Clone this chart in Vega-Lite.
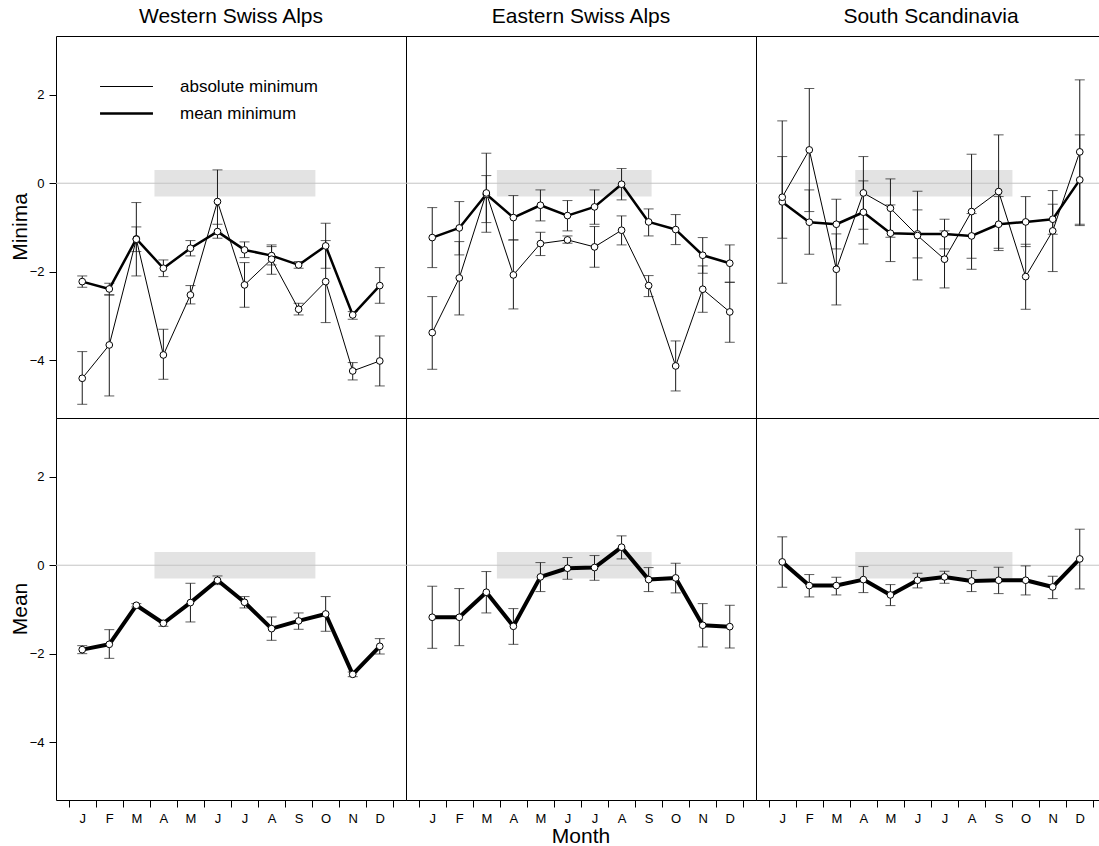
{
  "$schema": "https://vega.github.io/schema/vega-lite/v6.json",
  "background": "white",
  "padding": {"left": 10, "top": 6, "right": 0, "bottom": 0},
  "bounds": "flush",
  "config": {
    "font": "Liberation Sans",
    "view": {"stroke": "black", "strokeWidth": 1},
    "axis": {"grid": false, "domain": false, "tickColor": "black", "labelColor": "black", "labelFontSize": 13, "tickSize": 7, "labelFont": "Liberation Sans", "title": null},
    "header": {"labelFont": "Liberation Sans", "labelColor": "black", "titleFont": "Liberation Sans", "titleColor": "black"}
  },
  "data": {"values": [
    {"k":"band","r":"Western Swiss Alps","p":"Minima","x0":3.67,"x1":9.62,"b0":-0.3,"b1":0.3},
    {"k":"band","r":"Eastern Swiss Alps","p":"Minima","x0":3.39,"x1":9.11,"b0":-0.3,"b1":0.3},
    {"k":"band","r":"South Scandinavia","p":"Minima","x0":3.70,"x1":9.51,"b0":-0.3,"b1":0.3},
    {"k":"band","r":"Western Swiss Alps","p":"Mean","x0":3.67,"x1":9.62,"b0":-0.3,"b1":0.3},
    {"k":"band","r":"Eastern Swiss Alps","p":"Mean","x0":3.39,"x1":9.11,"b0":-0.3,"b1":0.3},
    {"k":"band","r":"South Scandinavia","p":"Mean","x0":3.70,"x1":9.51,"b0":-0.3,"b1":0.3},

    {"k":"pt","r":"Western Swiss Alps","p":"Minima","s":"mean minimum","m":1,"y":-2.225,"hi":-2.097,"lo":-2.353},
    {"k":"pt","r":"Western Swiss Alps","p":"Minima","s":"mean minimum","m":2,"y":-2.391,"hi":-2.262,"lo":-2.526},
    {"k":"pt","r":"Western Swiss Alps","p":"Minima","s":"mean minimum","m":3,"y":-1.259,"hi":-0.988,"lo":-1.546},
    {"k":"pt","r":"Western Swiss Alps","p":"Minima","s":"mean minimum","m":4,"y":-1.923,"hi":-1.735,"lo":-2.112},
    {"k":"pt","r":"Western Swiss Alps","p":"Minima","s":"mean minimum","m":5,"y":-1.471,"hi":-1.297,"lo":-1.644},
    {"k":"pt","r":"Western Swiss Alps","p":"Minima","s":"mean minimum","m":6,"y":-1.094,"hi":-0.928,"lo":-1.244},
    {"k":"pt","r":"Western Swiss Alps","p":"Minima","s":"mean minimum","m":7,"y":-1.508,"hi":-1.327,"lo":-1.682},
    {"k":"pt","r":"Western Swiss Alps","p":"Minima","s":"mean minimum","m":8,"y":-1.637,"hi":-1.433,"lo":-1.848},
    {"k":"pt","r":"Western Swiss Alps","p":"Minima","s":"mean minimum","m":9,"y":-1.848,"hi":-1.772,"lo":-1.923},
    {"k":"pt","r":"Western Swiss Alps","p":"Minima","s":"mean minimum","m":10,"y":-1.418,"hi":-0.905,"lo":-1.923},
    {"k":"pt","r":"Western Swiss Alps","p":"Minima","s":"mean minimum","m":11,"y":-2.979,"hi":-2.903,"lo":-3.077},
    {"k":"pt","r":"Western Swiss Alps","p":"Minima","s":"mean minimum","m":12,"y":-2.315,"hi":-1.908,"lo":-2.715},

    {"k":"pt","r":"Western Swiss Alps","p":"Minima","s":"absolute minimum","m":1,"y":-4.412,"hi":-3.808,"lo":-5.0},
    {"k":"pt","r":"Western Swiss Alps","p":"Minima","s":"absolute minimum","m":2,"y":-3.658,"hi":-2.526,"lo":-4.811},
    {"k":"pt","r":"Western Swiss Alps","p":"Minima","s":"absolute minimum","m":3,"y":-1.267,"hi":-0.437,"lo":-2.097},
    {"k":"pt","r":"Western Swiss Alps","p":"Minima","s":"absolute minimum","m":4,"y":-3.884,"hi":-3.303,"lo":-4.434},
    {"k":"pt","r":"Western Swiss Alps","p":"Minima","s":"absolute minimum","m":5,"y":-2.526,"hi":-2.315,"lo":-2.73},
    {"k":"pt","r":"Western Swiss Alps","p":"Minima","s":"absolute minimum","m":6,"y":-0.415,"hi":0.302,"lo":-1.131},
    {"k":"pt","r":"Western Swiss Alps","p":"Minima","s":"absolute minimum","m":7,"y":-2.3,"hi":-1.795,"lo":-2.805},
    {"k":"pt","r":"Western Swiss Alps","p":"Minima","s":"absolute minimum","m":8,"y":-1.719,"hi":-1.395,"lo":-2.059},
    {"k":"pt","r":"Western Swiss Alps","p":"Minima","s":"absolute minimum","m":9,"y":-2.851,"hi":-2.715,"lo":-2.979},
    {"k":"pt","r":"Western Swiss Alps","p":"Minima","s":"absolute minimum","m":10,"y":-2.225,"hi":-1.297,"lo":-3.152},
    {"k":"pt","r":"Western Swiss Alps","p":"Minima","s":"absolute minimum","m":11,"y":-4.246,"hi":-4.057,"lo":-4.449},
    {"k":"pt","r":"Western Swiss Alps","p":"Minima","s":"absolute minimum","m":12,"y":-4.02,"hi":-3.454,"lo":-4.585},

    {"k":"pt","r":"Eastern Swiss Alps","p":"Minima","s":"mean minimum","m":1,"y":-1.229,"hi":-0.551,"lo":-1.908},
    {"k":"pt","r":"Eastern Swiss Alps","p":"Minima","s":"mean minimum","m":2,"y":-1.011,"hi":-0.415,"lo":-1.621},
    {"k":"pt","r":"Eastern Swiss Alps","p":"Minima","s":"mean minimum","m":3,"y":-0.25,"hi":0.173,"lo":-0.89},
    {"k":"pt","r":"Eastern Swiss Alps","p":"Minima","s":"mean minimum","m":4,"y":-0.777,"hi":-0.279,"lo":-1.282},
    {"k":"pt","r":"Eastern Swiss Alps","p":"Minima","s":"mean minimum","m":5,"y":-0.498,"hi":-0.151,"lo":-0.852},
    {"k":"pt","r":"Eastern Swiss Alps","p":"Minima","s":"mean minimum","m":6,"y":-0.732,"hi":-0.392,"lo":-1.078},
    {"k":"pt","r":"Eastern Swiss Alps","p":"Minima","s":"mean minimum","m":7,"y":-0.535,"hi":-0.151,"lo":-0.928},
    {"k":"pt","r":"Eastern Swiss Alps","p":"Minima","s":"mean minimum","m":8,"y":-0.023,"hi":0.332,"lo":-0.377},
    {"k":"pt","r":"Eastern Swiss Alps","p":"Minima","s":"mean minimum","m":9,"y":-0.875,"hi":-0.581,"lo":-1.192},
    {"k":"pt","r":"Eastern Swiss Alps","p":"Minima","s":"mean minimum","m":10,"y":-1.048,"hi":-0.709,"lo":-1.388},
    {"k":"pt","r":"Eastern Swiss Alps","p":"Minima","s":"mean minimum","m":11,"y":-1.629,"hi":-1.229,"lo":-2.036},
    {"k":"pt","r":"Eastern Swiss Alps","p":"Minima","s":"mean minimum","m":12,"y":-1.81,"hi":-1.395,"lo":-2.24},

    {"k":"pt","r":"Eastern Swiss Alps","p":"Minima","s":"absolute minimum","m":1,"y":-3.379,"hi":-2.564,"lo":-4.208},
    {"k":"pt","r":"Eastern Swiss Alps","p":"Minima","s":"absolute minimum","m":2,"y":-2.142,"hi":-1.32,"lo":-2.979},
    {"k":"pt","r":"Eastern Swiss Alps","p":"Minima","s":"absolute minimum","m":3,"y":-0.22,"hi":0.679,"lo":-1.109},
    {"k":"pt","r":"Eastern Swiss Alps","p":"Minima","s":"absolute minimum","m":4,"y":-2.074,"hi":-1.282,"lo":-2.843},
    {"k":"pt","r":"Eastern Swiss Alps","p":"Minima","s":"absolute minimum","m":5,"y":-1.365,"hi":-1.109,"lo":-1.636},
    {"k":"pt","r":"Eastern Swiss Alps","p":"Minima","s":"absolute minimum","m":6,"y":-1.282,"hi":-1.192,"lo":-1.357},
    {"k":"pt","r":"Eastern Swiss Alps","p":"Minima","s":"absolute minimum","m":7,"y":-1.44,"hi":-0.98,"lo":-1.9},
    {"k":"pt","r":"Eastern Swiss Alps","p":"Minima","s":"absolute minimum","m":8,"y":-1.063,"hi":-0.739,"lo":-1.395},
    {"k":"pt","r":"Eastern Swiss Alps","p":"Minima","s":"absolute minimum","m":9,"y":-2.315,"hi":-2.089,"lo":-2.564},
    {"k":"pt","r":"Eastern Swiss Alps","p":"Minima","s":"absolute minimum","m":10,"y":-4.133,"hi":-3.567,"lo":-4.698},
    {"k":"pt","r":"Eastern Swiss Alps","p":"Minima","s":"absolute minimum","m":11,"y":-2.398,"hi":-1.87,"lo":-2.919},
    {"k":"pt","r":"Eastern Swiss Alps","p":"Minima","s":"absolute minimum","m":12,"y":-2.911,"hi":-2.24,"lo":-3.597},

    {"k":"pt","r":"South Scandinavia","p":"Minima","s":"mean minimum","m":1,"y":-0.422,"hi":1.41,"lo":-2.262},
    {"k":"pt","r":"South Scandinavia","p":"Minima","s":"mean minimum","m":2,"y":-0.882,"hi":-0.151,"lo":-1.606},
    {"k":"pt","r":"South Scandinavia","p":"Minima","s":"mean minimum","m":3,"y":-0.928,"hi":-0.362,"lo":-1.486},
    {"k":"pt","r":"South Scandinavia","p":"Minima","s":"mean minimum","m":4,"y":-0.656,"hi":0.053,"lo":-1.373},
    {"k":"pt","r":"South Scandinavia","p":"Minima","s":"mean minimum","m":5,"y":-1.131,"hi":-0.49,"lo":-1.772},
    {"k":"pt","r":"South Scandinavia","p":"Minima","s":"mean minimum","m":6,"y":-1.146,"hi":-0.603,"lo":-1.689},
    {"k":"pt","r":"South Scandinavia","p":"Minima","s":"mean minimum","m":7,"y":-1.146,"hi":-0.814,"lo":-1.486},
    {"k":"pt","r":"South Scandinavia","p":"Minima","s":"mean minimum","m":8,"y":-1.192,"hi":-0.686,"lo":-1.697},
    {"k":"pt","r":"South Scandinavia","p":"Minima","s":"mean minimum","m":9,"y":-0.928,"hi":-0.302,"lo":-1.523},
    {"k":"pt","r":"South Scandinavia","p":"Minima","s":"mean minimum","m":10,"y":-0.875,"hi":-0.302,"lo":-1.433},
    {"k":"pt","r":"South Scandinavia","p":"Minima","s":"mean minimum","m":11,"y":-0.814,"hi":-0.475,"lo":-1.154},
    {"k":"pt","r":"South Scandinavia","p":"Minima","s":"mean minimum","m":12,"y":0.075,"hi":1.094,"lo":-0.958},

    {"k":"pt","r":"South Scandinavia","p":"Minima","s":"absolute minimum","m":1,"y":-0.317,"hi":0.603,"lo":-1.244},
    {"k":"pt","r":"South Scandinavia","p":"Minima","s":"absolute minimum","m":2,"y":0.754,"hi":2.142,"lo":-0.641},
    {"k":"pt","r":"South Scandinavia","p":"Minima","s":"absolute minimum","m":3,"y":-1.946,"hi":-1.146,"lo":-2.753},
    {"k":"pt","r":"South Scandinavia","p":"Minima","s":"absolute minimum","m":4,"y":-0.219,"hi":0.603,"lo":-1.041},
    {"k":"pt","r":"South Scandinavia","p":"Minima","s":"absolute minimum","m":5,"y":-0.566,"hi":0.098,"lo":-1.222},
    {"k":"pt","r":"South Scandinavia","p":"Minima","s":"absolute minimum","m":6,"y":-1.184,"hi":-0.181,"lo":-2.187},
    {"k":"pt","r":"South Scandinavia","p":"Minima","s":"absolute minimum","m":7,"y":-1.719,"hi":-1.078,"lo":-2.368},
    {"k":"pt","r":"South Scandinavia","p":"Minima","s":"absolute minimum","m":8,"y":-0.641,"hi":0.656,"lo":-1.946},
    {"k":"pt","r":"South Scandinavia","p":"Minima","s":"absolute minimum","m":9,"y":-0.189,"hi":1.094,"lo":-1.471},
    {"k":"pt","r":"South Scandinavia","p":"Minima","s":"absolute minimum","m":10,"y":-2.112,"hi":-1.38,"lo":-2.851},
    {"k":"pt","r":"South Scandinavia","p":"Minima","s":"absolute minimum","m":11,"y":-1.078,"hi":-0.166,"lo":-1.998},
    {"k":"pt","r":"South Scandinavia","p":"Minima","s":"absolute minimum","m":12,"y":0.709,"hi":2.338,"lo":-0.928},

    {"k":"pt","r":"Western Swiss Alps","p":"Mean","s":"mean","m":1,"y":-1.909,"hi":-1.819,"lo":-2.0},
    {"k":"pt","r":"Western Swiss Alps","p":"Mean","s":"mean","m":2,"y":-1.789,"hi":-1.457,"lo":-2.106},
    {"k":"pt","r":"Western Swiss Alps","p":"Mean","s":"mean","m":3,"y":-0.906,"hi":-0.868,"lo":-0.943},
    {"k":"pt","r":"Western Swiss Alps","p":"Mean","s":"mean","m":4,"y":-1.313,"hi":-1.26,"lo":-1.381},
    {"k":"pt","r":"Western Swiss Alps","p":"Mean","s":"mean","m":5,"y":-0.845,"hi":-0.408,"lo":-1.283},
    {"k":"pt","r":"Western Swiss Alps","p":"Mean","s":"mean","m":6,"y":-0.34,"hi":-0.242,"lo":-0.438},
    {"k":"pt","r":"Western Swiss Alps","p":"Mean","s":"mean","m":7,"y":-0.838,"hi":-0.709,"lo":-0.966},
    {"k":"pt","r":"Western Swiss Alps","p":"Mean","s":"mean","m":8,"y":-1.434,"hi":-1.17,"lo":-1.698},
    {"k":"pt","r":"Western Swiss Alps","p":"Mean","s":"mean","m":9,"y":-1.26,"hi":-1.079,"lo":-1.449},
    {"k":"pt","r":"Western Swiss Alps","p":"Mean","s":"mean","m":10,"y":-1.102,"hi":-0.709,"lo":-1.494},
    {"k":"pt","r":"Western Swiss Alps","p":"Mean","s":"mean","m":11,"y":-2.468,"hi":-2.415,"lo":-2.521},
    {"k":"pt","r":"Western Swiss Alps","p":"Mean","s":"mean","m":12,"y":-1.834,"hi":-1.66,"lo":-2.008},

    {"k":"pt","r":"Eastern Swiss Alps","p":"Mean","s":"mean","m":1,"y":-1.177,"hi":-0.475,"lo":-1.879},
    {"k":"pt","r":"Eastern Swiss Alps","p":"Mean","s":"mean","m":2,"y":-1.177,"hi":-0.528,"lo":-1.819},
    {"k":"pt","r":"Eastern Swiss Alps","p":"Mean","s":"mean","m":3,"y":-0.611,"hi":-0.143,"lo":-1.079},
    {"k":"pt","r":"Eastern Swiss Alps","p":"Mean","s":"mean","m":4,"y":-1.381,"hi":-0.981,"lo":-1.789},
    {"k":"pt","r":"Eastern Swiss Alps","p":"Mean","s":"mean","m":5,"y":-0.264,"hi":0.06,"lo":-0.596},
    {"k":"pt","r":"Eastern Swiss Alps","p":"Mean","s":"mean","m":6,"y":-0.068,"hi":0.174,"lo":-0.317},
    {"k":"pt","r":"Eastern Swiss Alps","p":"Mean","s":"mean","m":7,"y":-0.053,"hi":0.219,"lo":-0.34},
    {"k":"pt","r":"Eastern Swiss Alps","p":"Mean","s":"mean","m":8,"y":0.408,"hi":0.664,"lo":0.143},
    {"k":"pt","r":"Eastern Swiss Alps","p":"Mean","s":"mean","m":9,"y":-0.325,"hi":-0.053,"lo":-0.596},
    {"k":"pt","r":"Eastern Swiss Alps","p":"Mean","s":"mean","m":10,"y":-0.287,"hi":0.045,"lo":-0.626},
    {"k":"pt","r":"Eastern Swiss Alps","p":"Mean","s":"mean","m":11,"y":-1.358,"hi":-0.868,"lo":-1.849},
    {"k":"pt","r":"Eastern Swiss Alps","p":"Mean","s":"mean","m":12,"y":-1.389,"hi":-0.906,"lo":-1.872},

    {"k":"pt","r":"South Scandinavia","p":"Mean","s":"mean","m":1,"y":0.075,"hi":0.642,"lo":-0.498},
    {"k":"pt","r":"South Scandinavia","p":"Mean","s":"mean","m":2,"y":-0.46,"hi":-0.211,"lo":-0.717},
    {"k":"pt","r":"South Scandinavia","p":"Mean","s":"mean","m":3,"y":-0.46,"hi":-0.272,"lo":-0.672},
    {"k":"pt","r":"South Scandinavia","p":"Mean","s":"mean","m":4,"y":-0.325,"hi":-0.03,"lo":-0.619},
    {"k":"pt","r":"South Scandinavia","p":"Mean","s":"mean","m":5,"y":-0.672,"hi":-0.438,"lo":-0.913},
    {"k":"pt","r":"South Scandinavia","p":"Mean","s":"mean","m":6,"y":-0.34,"hi":-0.181,"lo":-0.513},
    {"k":"pt","r":"South Scandinavia","p":"Mean","s":"mean","m":7,"y":-0.264,"hi":-0.136,"lo":-0.408},
    {"k":"pt","r":"South Scandinavia","p":"Mean","s":"mean","m":8,"y":-0.355,"hi":-0.121,"lo":-0.596},
    {"k":"pt","r":"South Scandinavia","p":"Mean","s":"mean","m":9,"y":-0.34,"hi":-0.045,"lo":-0.642},
    {"k":"pt","r":"South Scandinavia","p":"Mean","s":"mean","m":10,"y":-0.34,"hi":-0.015,"lo":-0.672},
    {"k":"pt","r":"South Scandinavia","p":"Mean","s":"mean","m":11,"y":-0.491,"hi":-0.249,"lo":-0.755},
    {"k":"pt","r":"South Scandinavia","p":"Mean","s":"mean","m":12,"y":0.143,"hi":0.815,"lo":-0.536}
  ]},
  "spacing": {"row": 0, "column": 0},
  "facet": {
    "column": {"field": "r", "type": "nominal", "sort": ["Western Swiss Alps", "Eastern Swiss Alps", "South Scandinavia"], "title": "Month",
      "header": {"labelOrient": "top", "titleOrient": "bottom", "labelFontSize": 21, "titleFontSize": 21, "titleFontWeight": "normal", "labelPadding": 9, "titlePadding": -9}},
    "row": {"field": "p", "type": "nominal", "sort": ["Minima", "Mean"], "title": null,
      "header": {"labelAngle": -90, "labelOrient": "left", "labelFontSize": 21, "labelPadding": -13}}
  },
  "spec": {
    "width": 350,
    "height": 382,
    "layer": [
      {
        "transform": [{"filter": "datum.k === 'band'"}],
        "mark": {"type": "rect", "color": "#e3e3e3"},
        "encoding": {
          "x": {"field": "x0", "type": "quantitative", "title": null, "scale": {"domain": [0.03, 12.97], "nice": false, "zero": false},
            "axis": {"values": [0.5, 1, 1.5, 2, 2.5, 3, 3.5, 4, 4.5, 5, 5.5, 6, 6.5, 7, 7.5, 8, 8.5, 9, 9.5, 10, 10.5, 11, 11.5, 12, 12.5],
              "labelExpr": "datum.value % 1 === 0 ? ['J','F','M','A','M','J','J','A','S','O','N','D'][datum.value - 1] : ''",
              "tickOpacity": {"condition": {"test": "datum.value % 1 === 0", "value": 0}, "value": 1},
              "labelOverlap": false, "labelFlush": false, "labelBound": false, "labelPadding": 5, "title": null}},
          "x2": {"field": "x1"},
          "y": {"field": "b0", "type": "quantitative", "title": null, "scale": {"domain": [-5.31, 3.33], "nice": false, "zero": false},
            "axis": {"values": [-4, -2, 0, 2], "labelPadding": 5, "title": null}},
          "y2": {"field": "b1"}
        }
      },
      {
        "transform": [{"filter": "datum.k === 'band'"}],
        "mark": {"type": "rule", "color": "#c4c4c4", "strokeWidth": 1},
        "encoding": {
          "y": {"datum": 0, "type": "quantitative", "title": null, "scale": {"domain": [-5.31, 3.33], "nice": false, "zero": false},
            "axis": {"values": [-4, -2, 0, 2], "labelPadding": 5, "title": null}}
        }
      },
      {
        "transform": [{"filter": "datum.k === 'pt'"}],
        "mark": {"type": "rule", "color": "#1a1a1a", "strokeWidth": 1},
        "encoding": {
          "x": {"field": "m", "type": "quantitative", "title": null, "scale": {"domain": [0.03, 12.97], "nice": false, "zero": false},
            "axis": {"values": [0.5, 1, 1.5, 2, 2.5, 3, 3.5, 4, 4.5, 5, 5.5, 6, 6.5, 7, 7.5, 8, 8.5, 9, 9.5, 10, 10.5, 11, 11.5, 12, 12.5],
              "labelExpr": "datum.value % 1 === 0 ? ['J','F','M','A','M','J','J','A','S','O','N','D'][datum.value - 1] : ''",
              "tickOpacity": {"condition": {"test": "datum.value % 1 === 0", "value": 0}, "value": 1},
              "labelOverlap": false, "labelFlush": false, "labelBound": false, "labelPadding": 5, "title": null}},
          "y": {"field": "lo", "type": "quantitative", "title": null, "scale": {"domain": [-5.31, 3.33], "nice": false, "zero": false},
            "axis": {"values": [-4, -2, 0, 2], "labelPadding": 5, "title": null}},
          "y2": {"field": "hi"}
        }
      },
      {
        "transform": [{"filter": "datum.k === 'pt'"}],
        "mark": {"type": "tick", "orient": "horizontal", "color": "#1a1a1a", "size": 10, "thickness": 1},
        "encoding": {
          "x": {"field": "m", "type": "quantitative", "title": null, "scale": {"domain": [0.03, 12.97], "nice": false, "zero": false},
            "axis": {"values": [0.5, 1, 1.5, 2, 2.5, 3, 3.5, 4, 4.5, 5, 5.5, 6, 6.5, 7, 7.5, 8, 8.5, 9, 9.5, 10, 10.5, 11, 11.5, 12, 12.5],
              "labelExpr": "datum.value % 1 === 0 ? ['J','F','M','A','M','J','J','A','S','O','N','D'][datum.value - 1] : ''",
              "tickOpacity": {"condition": {"test": "datum.value % 1 === 0", "value": 0}, "value": 1},
              "labelOverlap": false, "labelFlush": false, "labelBound": false, "labelPadding": 5, "title": null}},
          "y": {"field": "lo", "type": "quantitative", "title": null, "scale": {"domain": [-5.31, 3.33], "nice": false, "zero": false},
            "axis": {"values": [-4, -2, 0, 2], "labelPadding": 5, "title": null}}
        }
      },
      {
        "transform": [{"filter": "datum.k === 'pt'"}],
        "mark": {"type": "tick", "orient": "horizontal", "color": "#1a1a1a", "size": 10, "thickness": 1},
        "encoding": {
          "x": {"field": "m", "type": "quantitative", "title": null, "scale": {"domain": [0.03, 12.97], "nice": false, "zero": false},
            "axis": {"values": [0.5, 1, 1.5, 2, 2.5, 3, 3.5, 4, 4.5, 5, 5.5, 6, 6.5, 7, 7.5, 8, 8.5, 9, 9.5, 10, 10.5, 11, 11.5, 12, 12.5],
              "labelExpr": "datum.value % 1 === 0 ? ['J','F','M','A','M','J','J','A','S','O','N','D'][datum.value - 1] : ''",
              "tickOpacity": {"condition": {"test": "datum.value % 1 === 0", "value": 0}, "value": 1},
              "labelOverlap": false, "labelFlush": false, "labelBound": false, "labelPadding": 5, "title": null}},
          "y": {"field": "hi", "type": "quantitative", "title": null, "scale": {"domain": [-5.31, 3.33], "nice": false, "zero": false},
            "axis": {"values": [-4, -2, 0, 2], "labelPadding": 5, "title": null}}
        }
      },
      {
        "transform": [{"filter": "datum.k === 'pt'"}],
        "mark": {"type": "line", "color": "black", "strokeJoin": "round"},
        "encoding": {
          "x": {"field": "m", "type": "quantitative", "title": null, "scale": {"domain": [0.03, 12.97], "nice": false, "zero": false},
            "axis": {"values": [0.5, 1, 1.5, 2, 2.5, 3, 3.5, 4, 4.5, 5, 5.5, 6, 6.5, 7, 7.5, 8, 8.5, 9, 9.5, 10, 10.5, 11, 11.5, 12, 12.5],
              "labelExpr": "datum.value % 1 === 0 ? ['J','F','M','A','M','J','J','A','S','O','N','D'][datum.value - 1] : ''",
              "tickOpacity": {"condition": {"test": "datum.value % 1 === 0", "value": 0}, "value": 1},
              "labelOverlap": false, "labelFlush": false, "labelBound": false, "labelPadding": 5, "title": null}},
          "y": {"field": "y", "type": "quantitative", "title": null, "scale": {"domain": [-5.31, 3.33], "nice": false, "zero": false},
            "axis": {"values": [-4, -2, 0, 2], "labelPadding": 5, "title": null}},
          "strokeWidth": {"field": "s", "type": "ordinal",
            "scale": {"domain": ["absolute minimum", "mean minimum", "mean"], "range": [1, 4, 4]},
            "legend": {"orient": "none", "legendX": 62, "legendY": 42, "title": null, "values": ["absolute minimum", "mean minimum"],
              "symbolType": "M-5,0H5", "symbolSize": 112, "symbolStrokeColor": "black", "labelFontSize": 17, "labelColor": "black",
              "labelOffset": 45, "rowPadding": 9, "padding": 0}}
        }
      },
      {
        "transform": [{"filter": "datum.k === 'pt'"}],
        "mark": {"type": "point", "filled": true, "fill": "white", "stroke": "black", "strokeWidth": 1, "size": 45, "opacity": 1},
        "encoding": {
          "x": {"field": "m", "type": "quantitative", "title": null, "scale": {"domain": [0.03, 12.97], "nice": false, "zero": false},
            "axis": {"values": [0.5, 1, 1.5, 2, 2.5, 3, 3.5, 4, 4.5, 5, 5.5, 6, 6.5, 7, 7.5, 8, 8.5, 9, 9.5, 10, 10.5, 11, 11.5, 12, 12.5],
              "labelExpr": "datum.value % 1 === 0 ? ['J','F','M','A','M','J','J','A','S','O','N','D'][datum.value - 1] : ''",
              "tickOpacity": {"condition": {"test": "datum.value % 1 === 0", "value": 0}, "value": 1},
              "labelOverlap": false, "labelFlush": false, "labelBound": false, "labelPadding": 5, "title": null}},
          "y": {"field": "y", "type": "quantitative", "title": null, "scale": {"domain": [-5.31, 3.33], "nice": false, "zero": false},
            "axis": {"values": [-4, -2, 0, 2], "labelPadding": 5, "title": null}}
        }
      }
    ]
  }
}
